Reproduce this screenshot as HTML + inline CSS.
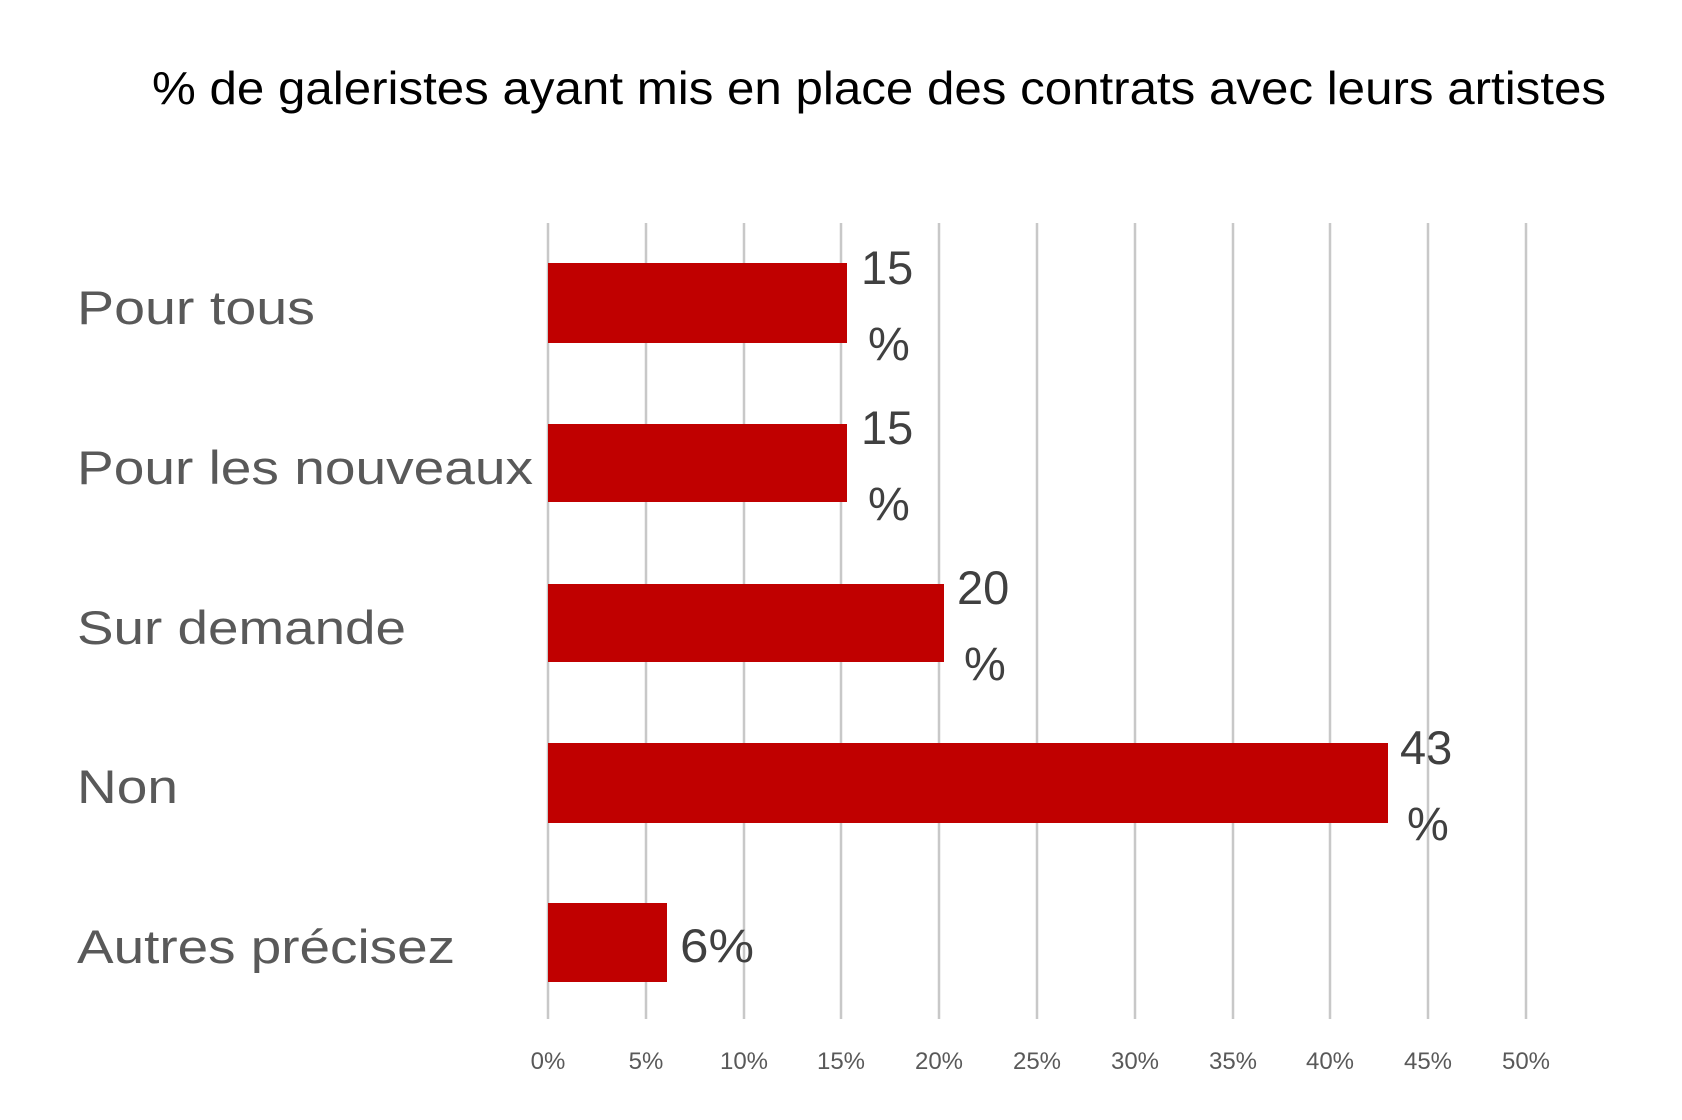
<!DOCTYPE html>
<html><head><meta charset="utf-8"><style>
html,body{margin:0;padding:0;background:#fff;}
svg{display:block;}
</style></head><body>
<svg width="1682" height="1120" viewBox="0 0 1682 1120" xmlns="http://www.w3.org/2000/svg" font-family="Liberation Sans, sans-serif">
<rect width="1682" height="1120" fill="#fff"/>
<text x="152" y="104" font-size="46" fill="#000" textLength="1454" lengthAdjust="spacingAndGlyphs">% de galeristes ayant mis en place des contrats avec leurs artistes</text>
<g stroke="#c8c8c8" stroke-width="2.5">
<line x1="548" y1="223" x2="548" y2="1019"/>
<line x1="646" y1="223" x2="646" y2="1019"/>
<line x1="744" y1="223" x2="744" y2="1019"/>
<line x1="841" y1="223" x2="841" y2="1019"/>
<line x1="939" y1="223" x2="939" y2="1019"/>
<line x1="1037" y1="223" x2="1037" y2="1019"/>
<line x1="1135" y1="223" x2="1135" y2="1019"/>
<line x1="1233" y1="223" x2="1233" y2="1019"/>
<line x1="1330" y1="223" x2="1330" y2="1019"/>
<line x1="1428" y1="223" x2="1428" y2="1019"/>
<line x1="1526" y1="223" x2="1526" y2="1019"/>
</g>
<g fill="#c00000">
<rect x="548" y="263" width="299" height="80"/>
<rect x="548" y="424" width="299" height="78"/>
<rect x="548" y="584" width="396" height="78"/>
<rect x="548" y="743" width="840" height="80"/>
<rect x="548" y="903" width="119" height="79"/>
</g>
<g font-size="47" fill="#595959">
<text x="77" y="324" textLength="238" lengthAdjust="spacingAndGlyphs">Pour tous</text>
<text x="77" y="484" textLength="456" lengthAdjust="spacingAndGlyphs">Pour les nouveaux</text>
<text x="77" y="644" textLength="329" lengthAdjust="spacingAndGlyphs">Sur demande</text>
<text x="77" y="803" textLength="101" lengthAdjust="spacingAndGlyphs">Non</text>
<text x="77" y="963" textLength="378" lengthAdjust="spacingAndGlyphs">Autres précisez</text>
</g>
<g font-size="47" fill="#404040">
<text x="861" y="284">15</text><text x="868" y="360">%</text>
<text x="861" y="444">15</text><text x="868" y="520">%</text>
<text x="957" y="604">20</text><text x="964" y="680">%</text>
<text x="1400" y="764">43</text><text x="1407" y="840">%</text>
<text x="680" y="962" textLength="74" lengthAdjust="spacingAndGlyphs">6%</text>
</g>
<g font-size="24" fill="#595959" text-anchor="middle">
<text x="548" y="1069">0%</text>
<text x="646" y="1069">5%</text>
<text x="744" y="1069">10%</text>
<text x="841" y="1069">15%</text>
<text x="939" y="1069">20%</text>
<text x="1037" y="1069">25%</text>
<text x="1135" y="1069">30%</text>
<text x="1233" y="1069">35%</text>
<text x="1330" y="1069">40%</text>
<text x="1428" y="1069">45%</text>
<text x="1526" y="1069">50%</text>
</g>
</svg>
</body></html>
